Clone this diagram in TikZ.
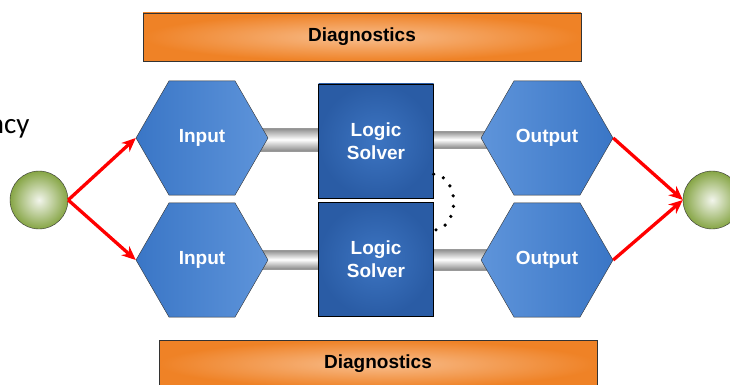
\documentclass[tikz,border=0pt]{standalone}
\usepackage{fontspec}
\setmainfont{Liberation Sans}
\newfontfamily\calibri{Carlito}
\usetikzlibrary{arrows.meta,shapes.geometric,calc,backgrounds}

\definecolor{hexdark}{HTML}{3A76C6}
\definecolor{hexlight}{HTML}{5E94DA}
\definecolor{solverdark}{HTML}{2A5CA5}
\definecolor{solverlight}{HTML}{3D75C2}
\definecolor{orangedark}{HTML}{EF8226}
\definecolor{orangelight}{HTML}{F8BE8E}
\definecolor{greendark}{HTML}{86A545}
\definecolor{greenlight}{HTML}{F2F5EC}
\definecolor{pipegray}{HTML}{8A8A8A}

\tikzset{
  hexbox/.style={regular polygon, regular polygon sides=6, minimum size=132pt,
    inner sep=0pt, draw=black!80, thin, text=white,
    font=\fontsize{19}{23}\selectfont\bfseries},
  inhex/.style={hexbox, left color=hexdark, right color=hexlight},
  outhex/.style={hexbox, left color=hexlight, right color=hexdark},
  solver/.style={rectangle, minimum width=115pt, minimum height=114pt, inner sep=0pt,
    draw=black, thin, inner color=solverlight, outer color=solverdark, text=white,
    align=center, font=\fontsize{19}{23}\selectfont\bfseries},
  diag/.style={rectangle, minimum width=438pt, minimum height=48pt, inner sep=0pt,
    draw=black!80, thin, inner color=orangelight, outer color=orangedark,
    font=\fontsize{19}{23}\selectfont\bfseries},
  ball/.style={circle, minimum size=58pt, inner sep=0pt, draw=black!80, thin,
    inner color=greenlight, outer color=greendark},
  flow/.style={-{Stealth[length=14pt,width=12pt]}, red, line width=3.3pt},
  pipe/.style={top color=pipegray, bottom color=pipegray, middle color=white,
    draw=gray!80, thin},
  dotarc/.style={line width=3.6pt, line cap=round, dash pattern=on 0pt off 10.5pt},
}

\begin{document}
\begin{tikzpicture}[x=1pt,y=-1pt]
	\useasboundingbox (0,0) rectangle (730,385);

	\node[diag] (diag1) at (362, 37) {Diagnostics};
	\node[diag] (diag2) at (378,364) {Diagnostics};

	\node[anchor=base east, font=\calibri\fontsize{29}{34}\selectfont] (label) at (33,133) {ncy};

	\node[ball] (lc) at ( 39,200) {};
	\node[ball] (rc) at (712,200) {};

	\node[inhex]  (in1)  at (202,138) {Input};
	\node[inhex]  (in2)  at (202,260) {Input};
	\node[solver] (ls1)  at (376,141) {Logic\\Solver};
	\node[solver] (ls2)  at (376,259) {Logic\\Solver};
	\node[outhex] (out1) at (547,138) {Output};
	\node[outhex] (out2) at (547,260) {Output};

	% pipes behind the blocks
	\begin{scope}[on background layer]
		\foreach \a\b in {in1/ls1, ls1/out1, in2/ls2, ls2/out2}
		{	\path[pipe] ($(\a.center)+(0,-10)$) rectangle ($(\b.center)+(0,10)$);
		}
	\end{scope}

	\foreach \u\v in {lc.east/in1.west, lc.east/in2.west, out1.east/rc.west, out2.east/rc.west}
	{	\draw[flow] (\u) -- (\v);
	}

	\draw[dotarc] ($(ls1.south east)+(0,-24)$) arc[start angle=-90, end angle=90, x radius=20, y radius=28];
\end{tikzpicture}
\end{document}
